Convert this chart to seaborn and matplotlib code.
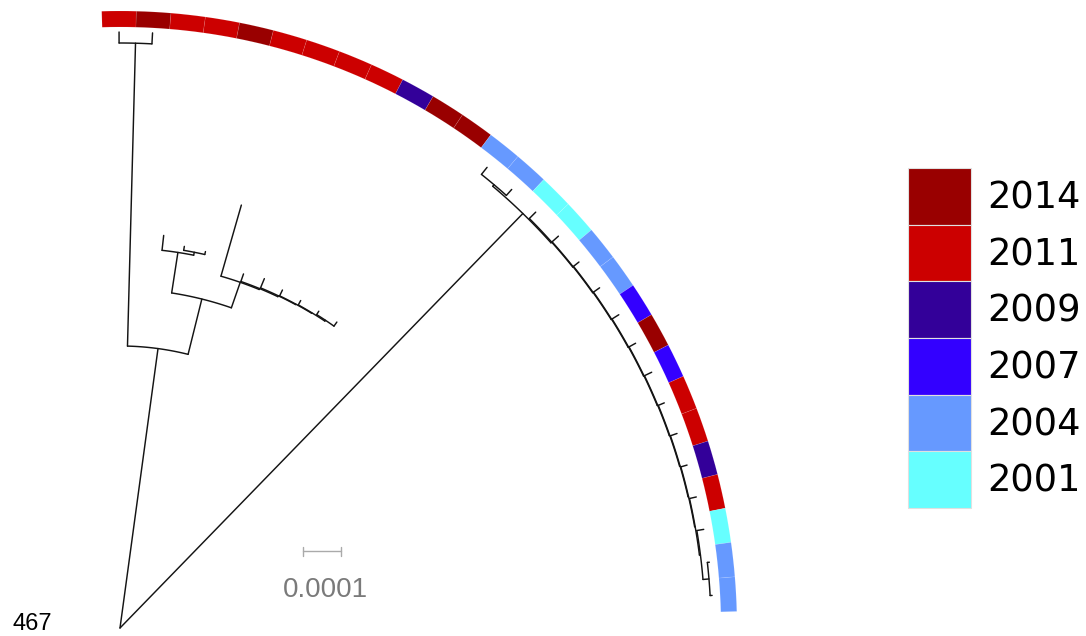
import numpy as np
import pandas as pd
import matplotlib
matplotlib.use("Agg")
import matplotlib.pyplot as plt
import seaborn as sns
from matplotlib.patches import Wedge, Rectangle

# ---------------- data ----------------
years = [2014, 2011, 2009, 2007, 2004, 2001]
year_colors = ["#990000", "#CC0000", "#330099", "#3300FF", "#6699FF", "#66FFFF"]

# collection year of each tip, in ring order (top -> right)
leaf_years = [2011, 2014, 2011, 2011, 2014, 2011, 2011, 2011, 2011, 2009, 2014, 2014,
              2004, 2004, 2001, 2001, 2004, 2004, 2007, 2014, 2007, 2011, 2011, 2009,
              2011, 2001, 2004, 2004]

# tree topology: node, parent, depth from root (px of branch length; 38 px = 0.0001)
node_names = ["root", "T", "P", "B", "C", "E", "D", "F1", "F2", "F3", "F4", "F5",
              "R", "Q", "S1", "S2", "S3", "S4", "S5", "S6", "S7", "S8", "S9", "S10",
              "S11", "S12", "S13"]
node_parents = [None, "root", "T", "T", "B", "C", "B", "D", "F1", "F2", "F3", "F4",
                "root", "R", "R", "S1", "S2", "S3", "S4", "S5", "S6", "S7", "S8", "S9",
                "S10", "S11", "S12"]
node_depths = [0, 282, 585, 339, 380, 383, 366, 367, 368, 368.5, 369, 370,
               578, 580, 579, 579.5, 580, 580.5, 581, 581.5, 582, 582.5, 583, 583.5,
               584, 585, 591]

leaf_parents = ["P", "P", "C", "E", "E", "D", "F1", "F2", "F3", "F4", "F5", "F5",
                "Q", "Q", "S1", "S2", "S3", "S4", "S5", "S6", "S7", "S8", "S9", "S10",
                "S11", "S12", "S13", "S13"]
leaf_depths = [596, 596, 395, 387, 386, 440, 375, 378, 375, 374, 374, 375,
               589, 588, 588, 588, 587, 588, 589, 589, 590, 589, 590, 590,
               591, 592, 593, 593]

scale_value = "0.0001"
scale_len = 38
root_label = "467"

# ---------------- layout ----------------
ring_start, ring_step = 91.7, 3.22
ring_outer, ring_width = 617, 16

names = node_names + [f"L{i+1}" for i in range(len(leaf_years))]
parents = dict(zip(names, node_parents + leaf_parents))
depth = dict(zip(names, node_depths + leaf_depths))
children = {n: [] for n in names}
for n in names:
    if parents[n] is not None:
        children[parents[n]].append(n)

angle = {}
for i in range(len(leaf_years)):
    angle[f"L{i+1}"] = ring_start - ring_step * (i + 0.5)


def get_angle(n):
    if n not in angle:
        angle[n] = np.mean([get_angle(c) for c in children[n]])
    return angle[n]


for n in names:
    get_angle(n)

rows = []
eid = 0
for n in names:
    p = parents[n]
    if p is not None:
        a = np.radians(angle[n])
        for r in (depth[p], depth[n]):
            rows.append((eid, r * np.cos(a), r * np.sin(a)))
        eid += 1
    if children[n] and n != "root":
        angs = [angle[c] for c in children[n]]
        t = np.radians(np.linspace(min(angs), max(angs), 40))
        for tt in t:
            rows.append((eid, depth[n] * np.cos(tt), depth[n] * np.sin(tt)))
        eid += 1
edges = pd.DataFrame(rows, columns=["edge", "x", "y"])

# ---------------- drawing ----------------
sns.set_theme(style="white")
plt.rcParams["font.family"] = ["DejaVu Sans"]

fig = plt.figure(figsize=(10.86, 6.36), dpi=100)
ax = fig.add_axes([0, 0, 1, 1])

sns.lineplot(data=edges, x="x", y="y", units="edge", estimator=None, sort=False,
             color="#141414", linewidth=1.05, ax=ax, legend=False)

cmap = dict(zip(years, year_colors))
for i, yr in enumerate(leaf_years):
    t2 = ring_start - ring_step * i
    t1 = t2 - ring_step
    ax.add_patch(Wedge((0, 0), ring_outer, t1, t2, width=ring_width,
                       facecolor=cmap[yr], edgecolor=(1, 1, 1, 0.12), linewidth=0.5))

# legend
box_x, box_w, box_top, box_h = 788, 63, 460, 340 / 6
for k, (yr, col) in enumerate(zip(years, year_colors)):
    y0 = box_top - (k + 1) * box_h
    ax.add_patch(Rectangle((box_x, y0), box_w, box_h, facecolor=col,
                           edgecolor="#e0e0e0", linewidth=0.8))
    ax.text(box_x + 79, y0 + 16, str(yr), fontsize=26.5, color="black",
            ha="left", va="baseline", family=["DejaVu Sans"])

# scale bar
sx0, sy = 183, 77
ax.plot([sx0, sx0 + scale_len], [sy, sy], color="#aaaaaa", lw=1.0)
for xx in (sx0, sx0 + scale_len):
    ax.plot([xx, xx], [sy - 4.5, sy + 4.5], color="#aaaaaa", lw=1.0)
ax.text(sx0 + scale_len / 2 + 3, 31, scale_value, fontsize=20, color="#7a7a7a",
        ha="center", va="baseline", family=["Liberation Sans"])

ax.text(-108, -2, root_label, fontsize=17, color="black", ha="left",
        va="baseline", family=["Liberation Sans"])

ax.set_xlim(-120, 966)
ax.set_ylim(-8, 628)
ax.set_aspect("equal")
ax.axis("off")
fig.savefig("out.png", dpi=100)
